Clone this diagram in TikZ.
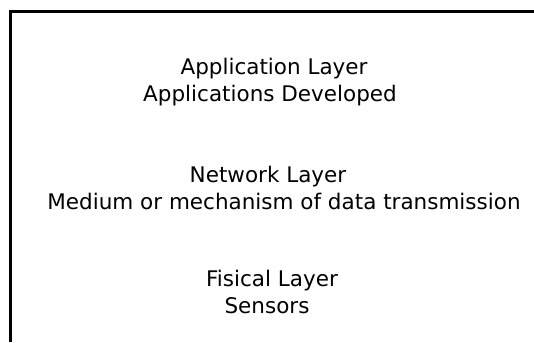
\documentclass[tikz,border=0pt]{standalone}
\usepackage{fontspec}
\setmainfont{DejaVu Sans}

\begin{document}
\begin{tikzpicture}[x=1pt, y=1pt,
    layertext/.style={font=\fontsize{21.5}{25}\selectfont, anchor=base, inner sep=0pt}]
  \useasboundingbox (0,0) rectangle (534,342);

  \draw[line width=3pt] (10.8,0)--(10.8,330)--(534,330);

  \node[layertext] (apptitle) at (274,267) {Application Layer};
  \node[layertext] (appdesc)  at (270,240) {Applications Developed};

  \node[layertext] (nettitle) at (268,159) {Network Layer};
  \node[layertext] (netdesc)  at (284,132) {Medium or mechanism of data transmission};

  \node[layertext] (phytitle) at (272,56) {Fisical Layer};
  \node[layertext] (phydesc)  at (267,29) {Sensors};

\end{tikzpicture}
\end{document}
